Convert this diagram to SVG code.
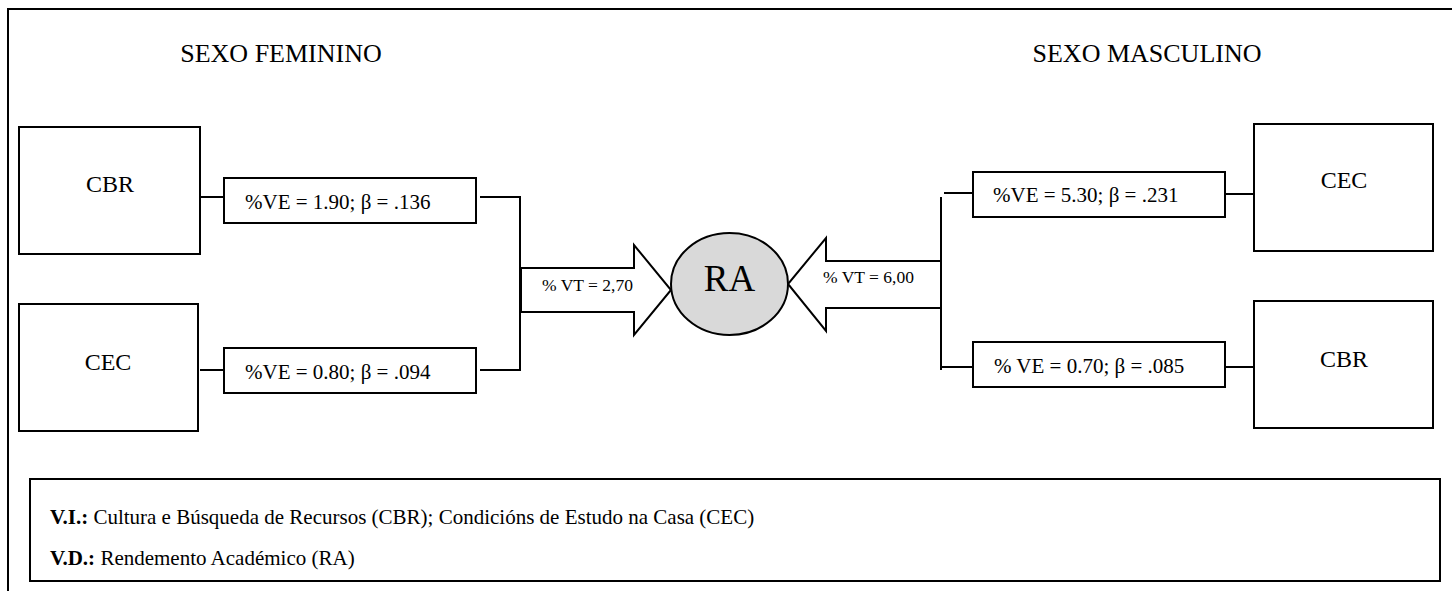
<svg xmlns="http://www.w3.org/2000/svg" width="1452" height="591" viewBox="0 0 1452 591">
  <style>
    .box { fill: #ffffff; stroke: #000000; stroke-width: 2; }
    .line { fill: none; stroke: #000000; stroke-width: 2; }
    .arrow { fill: #ffffff; stroke: #000000; stroke-width: 2; stroke-linejoin: miter; }
    text { font-family: "Liberation Serif", "Times New Roman", serif; fill: #000000; }
    .title { font-size: 26px; text-anchor: middle; }
    .var { font-size: 24px; text-anchor: middle; }
    .coef { font-size: 21px; }
    .vt { font-size: 17.5px; }
    .legend { font-size: 21px; }
  </style>

  <rect x="0" y="0" width="1452" height="591" fill="#ffffff"/>

  <!-- outer frame (top and left edges) -->
  <path class="line" d="M8,591 V9 H1452"/>

  <!-- group headings -->
  <text class="title" x="281" y="62">SEXO FEMININO</text>
  <text class="title" x="1147" y="62">SEXO MASCULINO</text>

  <!-- connectors -->
  <g id="connectors">
    <!-- female side -->
    <line class="line" x1="200" y1="197" x2="224" y2="197"/>
    <line class="line" x1="200" y1="370" x2="224" y2="370"/>
    <path class="line" d="M480,197 H520 V370 H480"/>
    <!-- male side -->
    <path class="line" d="M944,193 H973"/>
    <path class="line" d="M941,197 V370"/>
    <path class="line" d="M941,367 H973"/>
    <line class="line" x1="1226" y1="194" x2="1254" y2="194"/>
    <line class="line" x1="1226" y1="367" x2="1254" y2="367"/>
  </g>

  <!-- female predictors -->
  <g id="f-cbr">
    <rect class="box" x="19" y="127" width="181" height="127"/>
    <text class="var" x="110" y="192">CBR</text>
  </g>
  <g id="f-cec">
    <rect class="box" x="19" y="304" width="179" height="127"/>
    <text class="var" x="108" y="370">CEC</text>
  </g>
  <g id="f-cbr-coef">
    <rect class="box" x="224" y="178" width="252" height="45"/>
    <text class="coef" x="245" y="209">%VE = 1.90; β = .136</text>
  </g>
  <g id="f-cec-coef">
    <rect class="box" x="224" y="348" width="252" height="45"/>
    <text class="coef" x="245" y="379">%VE = 0.80; β = .094</text>
  </g>

  <!-- total variance arrows -->
  <g id="f-total">
    <polygon class="arrow" points="521,268 634,268 634,245 671,290 634,335 634,312 521,312"/>
    <text class="vt" x="542" y="291">% VT = 2,70</text>
  </g>
  <g id="m-total">
    <polygon class="arrow" points="941,261 826,261 826,238 788,284 826,331 826,308 941,308"/>
    <text class="vt" x="823" y="283">% VT = 6,00</text>
  </g>

  <!-- outcome -->
  <g id="ra">
    <ellipse cx="729.5" cy="284" rx="58.5" ry="51" fill="#d9d9d9" stroke="#000000" stroke-width="2"/>
    <text x="729.5" y="291" font-size="37" text-anchor="middle">RA</text>
  </g>

  <!-- male predictors -->
  <g id="m-cec-coef">
    <rect class="box" x="973" y="172" width="252" height="45"/>
    <text class="coef" x="993" y="202">%VE = 5.30; β = .231</text>
  </g>
  <g id="m-cbr-coef">
    <rect class="box" x="973" y="342" width="252" height="45"/>
    <text class="coef" x="994" y="373">% VE = 0.70; β = .085</text>
  </g>
  <g id="m-cec">
    <rect class="box" x="1254" y="124" width="179" height="127"/>
    <text class="var" x="1344" y="188">CEC</text>
  </g>
  <g id="m-cbr">
    <rect class="box" x="1254" y="301" width="179" height="127"/>
    <text class="var" x="1344" y="367">CBR</text>
  </g>

  <!-- legend -->
  <g id="legend">
    <rect class="box" x="30" y="479" width="1410" height="102"/>
    <text class="legend" x="50" y="524"><tspan font-weight="bold">V.I.:</tspan> Cultura e Búsqueda de Recursos (CBR); Condicións de Estudo na Casa (CEC)</text>
    <text class="legend" x="50" y="565"><tspan font-weight="bold">V.D.:</tspan> Rendemento Académico (RA)</text>
  </g>
</svg>
